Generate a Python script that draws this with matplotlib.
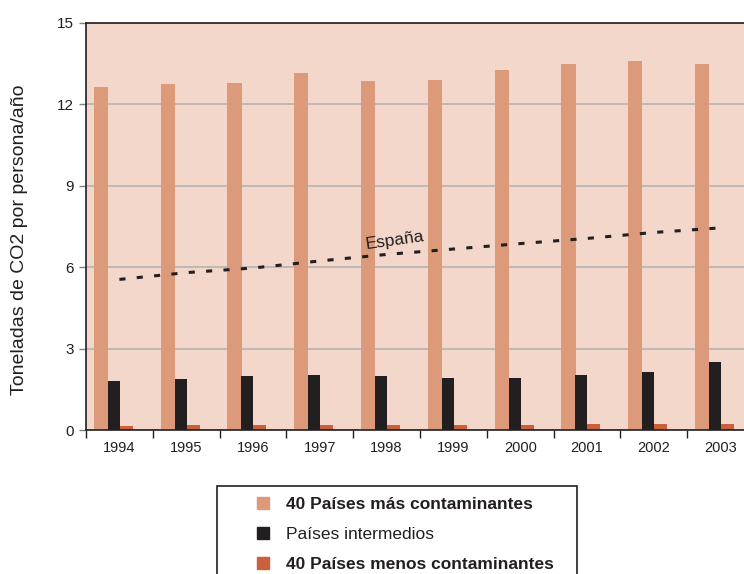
import matplotlib
matplotlib.use("Agg")
import matplotlib.pyplot as plt
import numpy as np
from matplotlib.patches import Rectangle, Patch

plt.rcParams['font.family'] = ['Liberation Sans', 'DejaVu Sans']

years = ['1994', '1995', '1996', '1997', '1998', '1999', '2000', '2001', '2002', '2003']
mas_contaminantes = [12.64, 12.75, 12.8, 13.16, 12.86, 12.9, 13.27, 13.49, 13.6, 13.49]
intermedios = [1.81, 1.88, 1.99, 2.03, 2.0, 1.92, 1.92, 2.03, 2.14, 2.5]
menos_contaminantes = [0.16, 0.17, 0.17, 0.18, 0.17, 0.17, 0.2, 0.21, 0.21, 0.21]
espana = [5.55, 5.8, 5.97, 6.23, 6.47, 6.67, 6.87, 7.06, 7.28, 7.45]

c_mas = '#DC9A7B'
c_int = '#231F20'
c_menos = '#C9603B'
c_bg = '#F2D7CA'

fig = plt.figure(figsize=(7.44, 5.74), dpi=100)
ax = fig.add_axes([86/744, 144/574, 668/744, 407/574])
ax.set_facecolor(c_bg)

x = np.arange(len(years))
ax.bar(x - 0.277, mas_contaminantes, width=0.21, color=c_mas, zorder=2)
ax.bar(x - 0.085, intermedios, width=0.18, color=c_int, zorder=3)
ax.bar(x + 0.097, menos_contaminantes, width=0.21, color=c_menos, zorder=2)
ax.plot(x, espana, color='#231F20', linestyle=(0, (2, 3.7)), linewidth=2.2, zorder=4)
ax.text(4.12, 6.98, 'España', rotation=8, fontsize=12.5, color='#231F20',
        ha='center', va='center', zorder=5)

ax.set_xlim(-0.5, 9.5)
ax.set_ylim(0, 15)
ax.set_yticks([0, 3, 6, 9, 12, 15])
ax.yaxis.grid(True, color='#B4B4B4', linewidth=1.2, zorder=1)
ax.set_axisbelow(True)

ax.set_xticks(x)
ax.set_xticklabels(years)
ax.set_xticks(np.arange(-0.5, 9.6, 1), minor=True)
ax.tick_params(axis='x', which='major', length=0, pad=8, labelsize=10.5, colors='#231F20')
ax.tick_params(axis='x', which='minor', length=6, width=1, color='#231F20')
ax.tick_params(axis='y', length=5, width=1, labelsize=11, colors='#231F20', pad=4)
ax.tick_params(axis='y', color='#808080')

for s in ['left', 'bottom', 'top']:
    ax.spines[s].set_color('#231F20')
    ax.spines[s].set_linewidth(1.2)
ax.spines['right'].set_visible(False)

fig.text(20/744, 1 - 240/574, 'Toneladas de CO2 por persona/año', rotation=90,
         ha='center', va='center', fontsize=14, color='#231F20')

# legend box
fig.patches.append(Rectangle((217/744, -0.05), 360/744, 1 - 486/574 + 0.05,
                             transform=fig.transFigure, facecolor='white',
                             edgecolor='#231F20', linewidth=1.2))
handles = [Patch(color=c_mas), Patch(color=c_int), Patch(color=c_menos)]
labels = ['40 Países más contaminantes', 'Países intermedios', '40 Países menos contaminantes']
leg = fig.legend(handles, labels, loc='upper left', bbox_to_anchor=(250/744, 1 - 490/574),
                 frameon=False, fontsize=12.5, handlelength=0.7, handleheight=0.7,
                 labelspacing=0.85, handletextpad=1.0, borderaxespad=0)
for i, t in enumerate(leg.get_texts()):
    t.set_color('#231F20')
    if i != 1:
        t.set_fontweight('bold')

fig.savefig('out.png', dpi=100)
